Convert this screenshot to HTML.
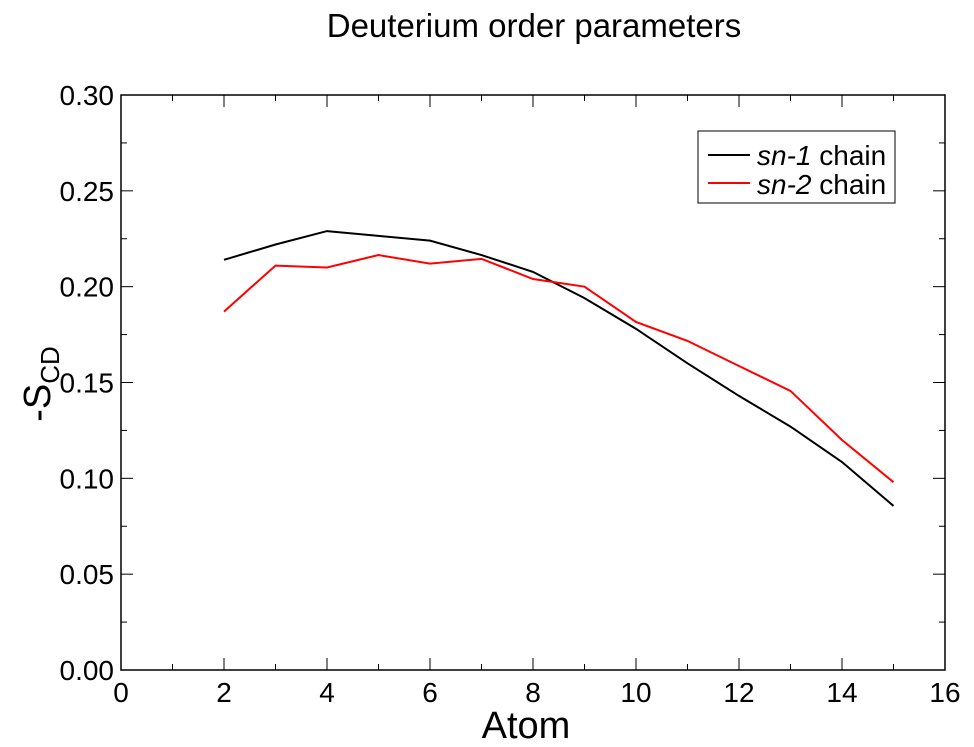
<!DOCTYPE html>
<html><head><meta charset="utf-8"><style>body{margin:0;background:#fff}svg{display:block}text{font-family:"Liberation Sans",Arial,sans-serif}</style></head>
<body>
<svg id="chart" width="974" height="747"></svg>
<script>
const xTicks=[0,2,4,6,8,10,12,14,16];
const yTicks=[0,0.05,0.10,0.15,0.20,0.25,0.30];
const yTickLabels=["0.00","0.05","0.10","0.15","0.20","0.25","0.30"];
const atoms=[2,3,4,5,6,7,8,9,10,11,12,13,14,15];
const sn1=[0.214,0.222,0.229,0.2265,0.224,0.2165,0.2077,0.194,0.178,0.160,0.143,0.127,0.1085,0.0856];
const sn2=[0.187,0.211,0.210,0.2165,0.212,0.2145,0.204,0.200,0.1816,0.1717,0.1586,0.1456,0.120,0.098];
const L=121,R=945,T=95,B=670;
const sx=v=>L+(v-0)/16*(R-L), sy=v=>B-(v/0.30)*(B-T);
const svg=document.getElementById('chart');const NS='http://www.w3.org/2000/svg';
function mk(t,a,p){const e=document.createElementNS(NS,t);for(const k in a)e.setAttribute(k,a[k]);(p||svg).appendChild(e);return e;}
let e=mk('text',{x:534,y:37,'font-size':33,'text-anchor':'middle'});e.textContent='Deuterium order parameters';

e=mk('rect',{x:L,y:T,width:R-L,height:B-T,fill:'none',stroke:'#000','stroke-width':1.5});

const g=mk('g',{stroke:'#000','stroke-width':1});

for(let v=0;v<=16;v++){const x=sx(v),len=v%2==0?12:6;mk('line',{x1:x,x2:x,y1:B,y2:B-len},g);mk('line',{x1:x,x2:x,y1:T,y2:T+len},g);}
for(let i=0;i<=12;i++){const v=i*0.025,y=sy(v),len=i%2==0?12:6;mk('line',{x1:L,x2:L+len,y1:y,y2:y},g);mk('line',{x1:R,x2:R-len,y1:y,y2:y},g);}
xTicks.forEach(v=>{const t=mk('text',{x:sx(v),y:B+32,'font-size':28,'text-anchor':'middle'});t.textContent=v;});
yTicks.forEach((v,i)=>{const t=mk('text',{x:L-7,y:sy(v)+10,'font-size':28,'text-anchor':'end'});t.textContent=yTickLabels[i];});
e=mk('text',{x:526,y:738,'font-size':38,'text-anchor':'middle'});e.textContent='Atom';

e=mk('text',{transform:'translate(50,384) rotate(-90)','font-size':38,'text-anchor':'middle'});
e.innerHTML='-S<tspan font-size="26" dy="9">CD</tspan>';

function line(d,c,n){const p=mk('polyline',{points:atoms.map((a,i)=>sx(a)+','+sy(d[i])).join(' '),fill:'none',stroke:c,'stroke-width':2});}
line(sn1,'#000','sn1-line');line(sn2,'#f00','sn2-line');
const lg=mk('g',{});
mk('rect',{x:698,y:131,width:197,height:72,fill:'#fff',stroke:'#000','stroke-width':1},lg);
mk('line',{x1:708,x2:750,y1:155,y2:155,stroke:'#000','stroke-width':2},lg);
mk('line',{x1:708,x2:750,y1:183,y2:183,stroke:'#f00','stroke-width':2},lg);
e=mk('text',{x:757,y:165,'font-size':28},lg);e.innerHTML='<tspan font-style="italic">sn-1</tspan> chain';

e=mk('text',{x:757,y:194,'font-size':28},lg);e.innerHTML='<tspan font-style="italic">sn-2</tspan> chain';

</script>
</body></html>
